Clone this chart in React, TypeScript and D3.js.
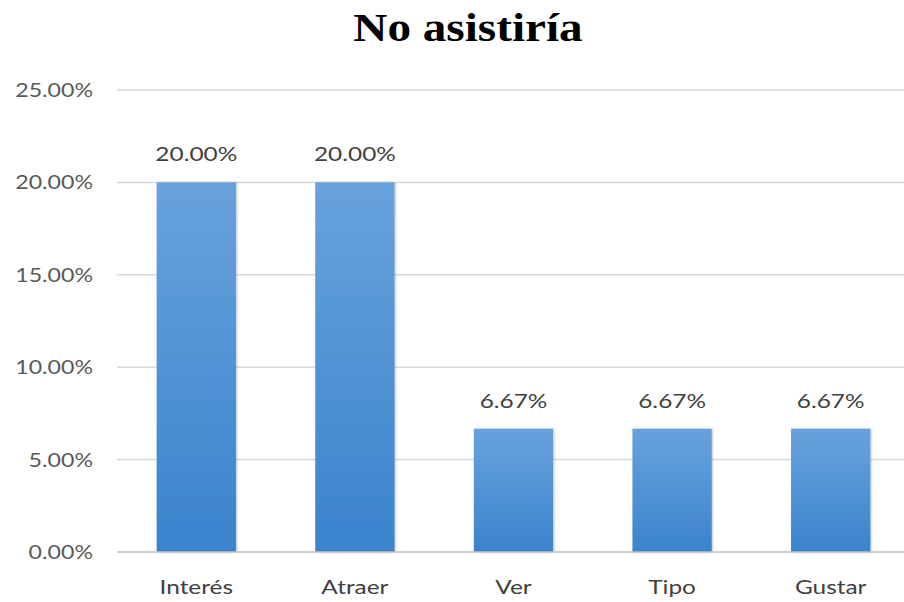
import React from "react";
import * as d3 from "d3";

const categories = ["Interés", "Atraer", "Ver", "Tipo", "Gustar"];
const values = [20.0, 20.0, 6.67, 6.67, 6.67];
const yTicks = [0, 5, 10, 15, 20, 25];
const title = "No asistiría";

function T(props: { x: number; y: number; sx: number; anchor: string; size: number; fill: string; family: string; weight?: string; children: React.ReactNode }) {
  return (
    <g transform={`translate(${props.x},${props.y}) scale(${props.sx},1)`}>
      <text x={0} y={0} textAnchor={props.anchor} fontFamily={props.family} fontSize={props.size} fontWeight={props.weight || "normal"} fill={props.fill}>{props.children}</text>
    </g>
  );
}

export default function App() {
  const W = 904, H = 602;
  const left = 117, right = 910, top = 90, bottom = 552;
  const x = d3.scaleBand<string>().domain(categories).range([left, right]).paddingInner(0.5).paddingOuter(0.25);
  const y = d3.scaleLinear().domain([0, 25]).range([bottom, top]);
  const font = "Lato, 'Open Sans', sans-serif";
  const sx = 1.22;
  return (
    <svg width={W} height={H} style={{ position: "absolute", left: 0, top: 0, background: "#fff" }}>
      <defs>
        <linearGradient id="barg" x1="0" y1="0" x2="0" y2="1">
          <stop offset="0" stopColor="#68a2dc" />
          <stop offset="1" stopColor="#3a83cd" />
        </linearGradient>
        <filter id="sh" x="-10%" y="-10%" width="120%" height="120%">
          <feDropShadow dx="1" dy="0" stdDeviation="1.2" floodColor="#000" floodOpacity="0.25" />
        </filter>
      </defs>
      <T x={468} y={41} sx={1.18} anchor="middle" size={40} weight="bold" fill="#000" family="'Liberation Serif', 'DejaVu Serif', serif">{title}</T>
      {yTicks.map((t) => (
        <g key={t}>
          {t > 0 && <line x1={left} x2={W} y1={y(t)} y2={y(t)} stroke="#d9d9d9" strokeWidth={1.5} />}
          <T x={93} y={y(t) + 7} sx={sx} anchor="end" size={19} fill="#595959" family={font}>{t.toFixed(2) + "%"}</T>
        </g>
      ))}
      {categories.map((c, i) => (
        <g key={c}>
          <rect x={x(c)} y={y(values[i])} width={x.bandwidth()} height={bottom - y(values[i])} fill="url(#barg)" filter="url(#sh)" />
          <T x={(x(c) as number) + x.bandwidth() / 2} y={y(values[i]) - 21} sx={sx} anchor="middle" size={20} fill="#404040" family={font}>{values[i].toFixed(2) + "%"}</T>
          <T x={(x(c) as number) + x.bandwidth() / 2} y={594} sx={sx} anchor="middle" size={20} fill="#404040" family={font}>{c}</T>
        </g>
      ))}
      <line x1={left} x2={W} y1={bottom} y2={bottom} stroke="#bfbfbf" strokeWidth={1.5} />
    </svg>
  );
}
